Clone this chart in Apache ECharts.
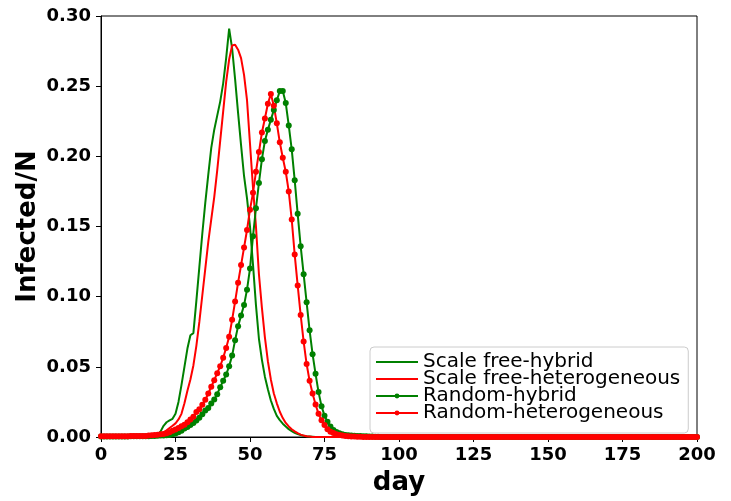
<!DOCTYPE html>
<html>
<head>
<meta charset="utf-8">
<script src="https://cdn.jsdelivr.net/npm/echarts@6/dist/echarts.min.js"></script>
<style>
  html, body { margin: 0; padding: 0; background: #ffffff; }
  #chart { width: 731px; height: 501px; }
</style>
</head>
<body>
<div id="chart"></div>
<script>
// Daily fraction of infected nodes (Infected/N), one value per day, day 0 .. day 200.

const seriesNames = [
  'Scale free-hybrid',
  'Scale free-heterogeneous',
  'Random-hybrid',
  'Random-heterogeneous'
];

const scaleFreeHybrid = [
  0.0005, 0.0005, 0.0005, 0.0005, 0.0005, 0.0005, 0.0005, 0.0005, 0.0005, 0.0005,
  0.0005, 0.0005, 0.0005, 0.0005, 0.0005, 0.0006, 0.0007, 0.0009, 0.0012, 0.002,
  0.004, 0.008, 0.0105, 0.0118, 0.013, 0.0165, 0.025, 0.037, 0.05, 0.063,
  0.0725, 0.074, 0.097, 0.121, 0.145, 0.167, 0.187, 0.206, 0.219, 0.229,
  0.239, 0.252, 0.27, 0.291, 0.277, 0.255, 0.231, 0.208, 0.186, 0.17,
  0.15, 0.123, 0.094, 0.07, 0.055, 0.043, 0.034, 0.026, 0.02, 0.015,
  0.012, 0.0095, 0.0075, 0.0056, 0.0042, 0.003, 0.0021, 0.0014, 0.0009, 0.0006,
  0.0004, 0.0002, 0, 0, 0, 0, 0, 0, 0, 0,
  0, 0, 0, 0, 0, 0, 0, 0, 0, 0,
  0, 0, 0, 0, 0, 0, 0, 0, 0, 0,
  0, 0, 0, 0, 0, 0, 0, 0, 0, 0,
  0, 0, 0, 0, 0, 0, 0, 0, 0, 0,
  0, 0, 0, 0, 0, 0, 0, 0, 0, 0,
  0, 0, 0, 0, 0, 0, 0, 0, 0, 0,
  0, 0, 0, 0, 0, 0, 0, 0, 0, 0,
  0, 0, 0, 0, 0, 0, 0, 0, 0, 0,
  0, 0, 0, 0, 0, 0, 0, 0, 0, 0,
  0, 0, 0, 0, 0, 0, 0, 0, 0, 0,
  0, 0, 0, 0, 0, 0, 0, 0, 0, 0,
  0, 0, 0, 0, 0, 0, 0, 0, 0, 0,
  0
];

const scaleFreeHeterogeneous = [
  0.0003, 0.0003, 0.0003, 0.0003, 0.0003, 0.0003, 0.0003, 0.0003, 0.0003, 0.0003,
  0.0003, 0.0003, 0.0003, 0.0003, 0.0003, 0.0004, 0.0005, 0.0007, 0.001, 0.0015,
  0.0023, 0.0033, 0.0048, 0.0064, 0.008, 0.0097, 0.0125, 0.0165, 0.024, 0.033,
  0.041, 0.051, 0.065, 0.082, 0.101, 0.12, 0.139, 0.155, 0.171, 0.19,
  0.211, 0.232, 0.253, 0.269, 0.279, 0.2795, 0.276, 0.27, 0.258, 0.24,
  0.209, 0.178, 0.15, 0.116, 0.092, 0.071, 0.054, 0.041, 0.031, 0.024,
  0.018, 0.0135, 0.01, 0.0075, 0.0055, 0.004, 0.0027, 0.0017, 0.001, 0.0006,
  0.0003, 0, 0, 0, 0, 0, 0, 0, 0, 0,
  0, 0, 0, 0, 0, 0, 0, 0, 0, 0,
  0, 0, 0, 0, 0, 0, 0, 0, 0, 0,
  0, 0, 0, 0, 0, 0, 0, 0, 0, 0,
  0, 0, 0, 0, 0, 0, 0, 0, 0, 0,
  0, 0, 0, 0, 0, 0, 0, 0, 0, 0,
  0, 0, 0, 0, 0, 0, 0, 0, 0, 0,
  0, 0, 0, 0, 0, 0, 0, 0, 0, 0,
  0, 0, 0, 0, 0, 0, 0, 0, 0, 0,
  0, 0, 0, 0, 0, 0, 0, 0, 0, 0,
  0, 0, 0, 0, 0, 0, 0, 0, 0, 0,
  0, 0, 0, 0, 0, 0, 0, 0, 0, 0,
  0, 0, 0, 0, 0, 0, 0, 0, 0, 0,
  0
];

const randomHybrid = [
  0.0004, 0.0004, 0.0004, 0.0004, 0.0004, 0.0004, 0.0004, 0.0004, 0.0004, 0.0004,
  0.0005, 0.0005, 0.0005, 0.0005, 0.0005, 0.0005, 0.0006, 0.0007, 0.0008, 0.0009,
  0.001, 0.0011, 0.0013, 0.0015, 0.002, 0.0025, 0.0033, 0.0045, 0.006, 0.0072,
  0.0086, 0.0099, 0.0118, 0.0138, 0.0163, 0.0188, 0.0206, 0.0238, 0.0268, 0.0305,
  0.0355, 0.04, 0.0445, 0.0505, 0.058, 0.069, 0.079, 0.0865, 0.094, 0.105,
  0.12, 0.143, 0.163, 0.181, 0.198, 0.211, 0.219, 0.226, 0.233, 0.24,
  0.2465, 0.2465, 0.238, 0.222, 0.205, 0.183, 0.159, 0.136, 0.116, 0.096,
  0.076, 0.059, 0.045, 0.032, 0.022, 0.0152, 0.0108, 0.0075, 0.005, 0.0036,
  0.0027, 0.002, 0.0015, 0.0012, 0.001, 0.0009, 0.0008, 0.0007, 0.0006, 0.0005,
  0.0004, 0.0003, 0.0002, 0.0001, 0, 0, 0, 0, 0, 0,
  0, 0, 0, 0, 0, 0, 0, 0, 0, 0,
  0, 0, 0, 0, 0, 0, 0, 0, 0, 0,
  0, 0, 0, 0, 0, 0, 0, 0, 0, 0,
  0, 0, 0, 0, 0, 0, 0, 0, 0, 0,
  0, 0, 0, 0, 0, 0, 0, 0, 0, 0,
  0, 0, 0, 0, 0, 0, 0, 0, 0, 0,
  0, 0, 0, 0, 0, 0, 0, 0, 0, 0,
  0, 0, 0, 0, 0, 0, 0, 0, 0, 0,
  0, 0, 0, 0, 0, 0, 0, 0, 0, 0,
  0, 0, 0, 0, 0, 0, 0, 0, 0, 0,
  0
];

const randomHeterogeneous = [
  0.0005, 0.0005, 0.0005, 0.0005, 0.0005, 0.0005, 0.0005, 0.0005, 0.0005, 0.0005,
  0.0007, 0.0007, 0.0007, 0.0007, 0.0007, 0.0007, 0.001, 0.0012, 0.0014, 0.0016,
  0.0019, 0.0022, 0.0026, 0.0033, 0.0044, 0.0053, 0.0065, 0.0077, 0.0088, 0.0105,
  0.0125, 0.0145, 0.0178, 0.0198, 0.023, 0.0265, 0.031, 0.0358, 0.0405, 0.0455,
  0.0505, 0.0565, 0.0635, 0.0715, 0.0835, 0.0965, 0.11, 0.1225, 0.135, 0.1475,
  0.162, 0.174, 0.189, 0.203, 0.217, 0.227, 0.2375, 0.2445, 0.236, 0.2235,
  0.21, 0.199, 0.189, 0.175, 0.155, 0.13, 0.108, 0.087, 0.068, 0.052,
  0.04, 0.031, 0.0232, 0.0165, 0.012, 0.0085, 0.0055, 0.0038, 0.0028, 0.002,
  0.0015, 0.0011, 0.0008, 0.0006, 0.0004, 0.0003, 0.0002, 0.0001, 0, 0,
  0, 0, 0, 0, 0, 0, 0, 0, 0, 0,
  0, 0, 0, 0, 0, 0, 0, 0, 0, 0,
  0, 0, 0, 0, 0, 0, 0, 0, 0, 0,
  0, 0, 0, 0, 0, 0, 0, 0, 0, 0,
  0, 0, 0, 0, 0, 0, 0, 0, 0, 0,
  0, 0, 0, 0, 0, 0, 0, 0, 0, 0,
  0, 0, 0, 0, 0, 0, 0, 0, 0, 0,
  0, 0, 0, 0, 0, 0, 0, 0, 0, 0,
  0, 0, 0, 0, 0, 0, 0, 0, 0, 0,
  0, 0, 0, 0, 0, 0, 0, 0, 0, 0,
  0, 0, 0, 0, 0, 0, 0, 0, 0, 0,
  0
];

const GREEN = '#008000';
const RED = '#ff0000';
const FONT = 'DejaVu Sans';

// pair each value with its day number (the array index)
function byDay(values) {
  return values.map((v, day) => [day, v]);
}

function curve(name, values, color, withMarkers) {
  return {
    type: 'line',
    name: name,
    data: byDay(values),
    symbol: withMarkers ? 'circle' : 'none',
    symbolSize: 6,
    showSymbol: withMarkers,
    lineStyle: { color: color, width: 2 },
    itemStyle: { color: color },
    emphasis: { disabled: true },
    animation: false
  };
}

// plain-line entries get no dot in the legend
const legendItems = seriesNames.map((name, i) =>
  i < 2 ? { name: name, itemStyle: { opacity: 0 } } : { name: name }
);

const chart = echarts.init(document.getElementById('chart'), null, { renderer: 'canvas' });

chart.setOption({
  animation: false,
  backgroundColor: '#ffffff',
  grid: {
    left: 101, right: 34, top: 16, bottom: 64,
    show: true, borderColor: '#000000', borderWidth: 1, backgroundColor: 'transparent'
  },
  legend: {
    orient: 'vertical',
    left: 370,
    top: 347,
    itemWidth: 42,
    itemHeight: 6,
    itemGap: -3,
    itemTextGap: 8,
    padding: [5, 8, 10, 5],
    backgroundColor: 'rgba(255,255,255,0.8)',
    borderColor: '#cccccc',
    borderWidth: 1,
    borderRadius: 4,
    textStyle: { fontFamily: FONT, fontSize: 20, color: '#000000', lineHeight: 17 },
    data: legendItems
  },
  xAxis: {
    type: 'value',
    min: 0, max: 200, interval: 25,
    name: 'day',
    nameLocation: 'middle',
    nameGap: 33,
    nameMoveOverlap: false,
    nameTextStyle: { fontFamily: FONT, fontWeight: 'bold', fontSize: 26, color: '#000000' },
    axisLine: { show: true, onZero: false, lineStyle: { color: '#000000', width: 1 } },
    axisTick: { show: true, length: 5, lineStyle: { color: '#000000', width: 1 } },
    axisLabel: { fontFamily: FONT, fontWeight: 'bold', fontSize: 18, color: '#000000', margin: 9 },
    splitLine: { show: false }
  },
  yAxis: {
    type: 'value',
    min: 0, max: 0.3, interval: 0.05,
    name: 'Infected/N',
    nameLocation: 'middle',
    nameGap: 60,
    nameMoveOverlap: false,
    nameTextStyle: { fontFamily: FONT, fontWeight: 'bold', fontSize: 26, color: '#000000' },
    axisLine: { show: true, onZero: false, lineStyle: { color: '#000000', width: 1 } },
    axisTick: { show: true, length: 5, lineStyle: { color: '#000000', width: 1 } },
    axisLabel: {
      fontFamily: FONT, fontWeight: 'bold', fontSize: 18, color: '#000000', margin: 10,
      formatter: v => v.toFixed(2)
    },
    splitLine: { show: false }
  },
  series: [
    curve(seriesNames[0], scaleFreeHybrid, GREEN, false),
    curve(seriesNames[1], scaleFreeHeterogeneous, RED, false),
    curve(seriesNames[2], randomHybrid, GREEN, true),
    curve(seriesNames[3], randomHeterogeneous, RED, true)
  ]
});
</script>
</body>
</html>
